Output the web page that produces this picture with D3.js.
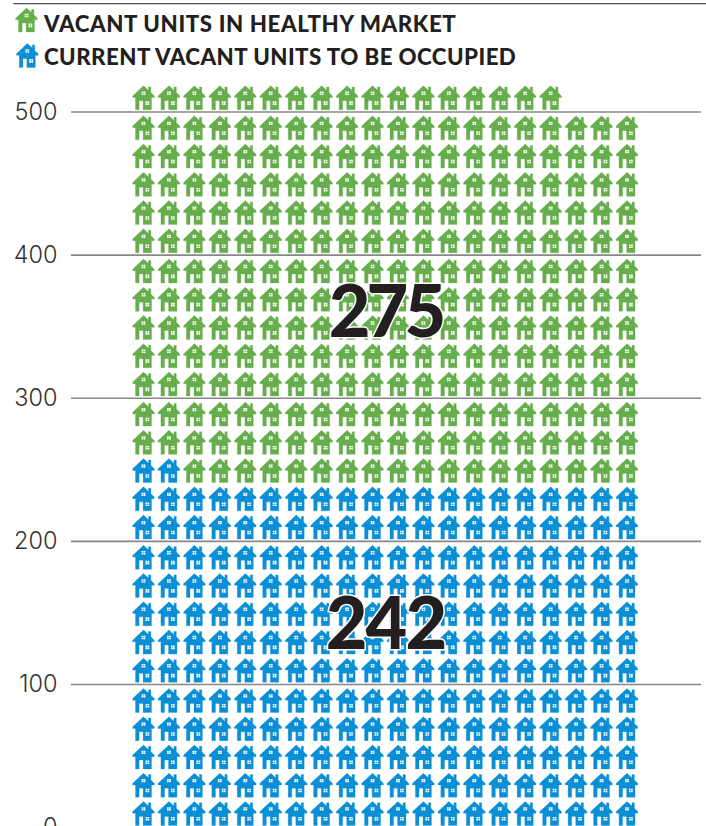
<!DOCTYPE html>
<html><head><meta charset="utf-8">
<style>html,body{margin:0;padding:0;background:#fff}svg{display:block}</style>
<script src="https://cdn.jsdelivr.net/npm/d3@7"></script></head>
<body><svg id="c" width="706" height="826"></svg>
<script>
const legendLabels = ["VACANT UNITS IN HEALTHY MARKET","CURRENT VACANT UNITS TO BE OCCUPIED"];
const seriesNames = ["Current vacant units to be occupied","Vacant units in healthy market"];
const seriesValues = [242,275];
const tickValues = [0,100,200,300,400,500];
const unitsPerIcon = 1;
const colors = ["#0a8fd6","#66ad4c"];
const ink = "#231f20";
const svg = d3.select("#c");
const y = d3.scaleLinear().domain([0,500]).range([827.7,112]);
const x = d3.scaleLinear().domain([0,19]).range([143.5,627]);
const housePath = "M0,-12 L5,-7.4 L5,-10.6 L7.4,-10.6 L7.4,-5.2 L10.8,-1.8 L10.8,-0.2 L8,-0.2 L8,12 L-0.4,12 L-0.4,3 L-4.4,3 L-4.4,12 L-8,12 L-8,-0.2 L-10.8,-0.2 L-10.8,-1.8 Z";
const winPath = "M-1.9,-6.2 h1.7 v1.5 h-1.7z M0.2,-6.2 h1.7 v1.5 h-1.7z M-1.9,-4.3 h1.7 v1.5 h-1.7z M0.2,-4.3 h1.7 v1.5 h-1.7z M2,3.6 h1.7 v1.6 h-1.7z M4.1,3.6 h1.7 v1.6 h-1.7z M2,5.6 h1.7 v1.6 h-1.7z M4.1,5.6 h1.7 v1.6 h-1.7z";
function house(g,cx,cy,c){
  const h=g.append("g").attr("transform",`translate(${cx},${cy})`);
  h.append("path").attr("d",housePath).attr("fill",c).attr("stroke",c).attr("stroke-width",0.3);
  h.append("path").attr("d",winPath).attr("fill","#fff");
}
svg.append("line").attr("x1",13.5).attr("x2",706).attr("y1",3.5).attr("y2",3.5).attr("stroke","#555").attr("stroke-width",1);
svg.append("line").attr("x1",13.5).attr("x2",706).attr("y1",4.5).attr("y2",4.5).attr("stroke","#ccc").attr("stroke-width",1);
legendLabels.forEach((t,i)=>{
  house(svg,[26.5,27.3][i],[20,55.5][i],colors[1-i]);
  svg.append("text").attr("x",44).attr("y",[32,65][i]).attr("font-family","Lato").attr("font-weight",900).attr("font-size",22.3).attr("letter-spacing",[0.6,0.43][i]).attr("fill",ink).text(t);
});
const g=svg.append("g");
tickValues.forEach(v=>{
  if(v>0) g.append("line").attr("x1",71).attr("x2",701).attr("y1",y(v)).attr("y2",y(v)).attr("stroke","#888").attr("stroke-width",1.6);
  g.append("text").attr("x",57.5).attr("y",y(v)+7.5).attr("text-anchor","end").attr("font-family","Inter").attr("font-weight",300).attr("font-size",23.5).attr("fill","#333").text(v);
});
const total=d3.sum(seriesValues);
const cols=20;
const gridG=svg.append("g");
d3.range(total/unitsPerIcon).forEach(i=>{
  const row=Math.floor(i/cols), col=i%cols;
  const base=Math.floor(row/5)*100;
  const inner=row%5;
  const cy=y(base)-14.3-inner*28.25;
  house(gridG,x(col),cy,i<seriesValues[0]?colors[0]:colors[1]);
});
[[385.5,337,seriesValues[1],-4],[385.5,649,seriesValues[0],-2]].forEach(([px,py,v,ls])=>{
  svg.append("text").attr("x",px).attr("y",py).attr("text-anchor","middle").attr("font-family","Lato").attr("font-weight",900).attr("font-size",72).attr("letter-spacing",ls)
   .attr("fill",ink).attr("stroke","#fff").attr("stroke-width",3).attr("paint-order","stroke").text(v);
});
</script></body></html>
